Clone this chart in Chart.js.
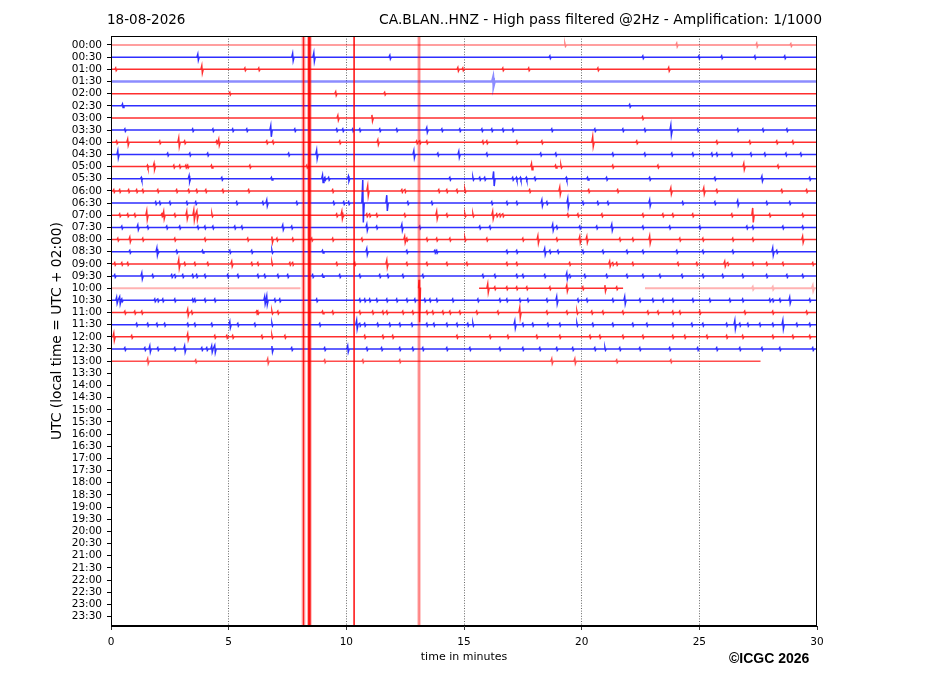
<!DOCTYPE html>
<html>
<head>
<meta charset="utf-8">
<script src="https://cdn.jsdelivr.net/npm/chart.js@4.4.1/dist/chart.umd.min.js"></script>
<style>
  html, body { margin: 0; padding: 0; background: #fff; }
</style>
</head>
<body>
<canvas id="heli" width="927" height="696"></canvas>
<script>
// Helicorder: one 30-minute line per half hour, spikes in row units
const dateLabel = '18-08-2026';
const titleText = 'CA.BLAN..HNZ - High pass filtered @2Hz - Amplification: 1/1000';
const creditText = '\u00A9ICGC 2026';

const rowLabels = [
  '00:00','00:30','01:00','01:30','02:00','02:30','03:00','03:30','04:00','04:30',
  '05:00','05:30','06:00','06:30','07:00','07:30','08:00','08:30','09:00','09:30',
  '10:00','10:30','11:00','11:30','12:00','12:30','13:00','13:30','14:00','14:30',
  '15:00','15:30','16:00','16:30','17:00','17:30','18:00','18:30','19:00','19:30',
  '20:00','20:30','21:00','21:30','22:00','22:30','23:00','23:30'
];
const minuteTicks = [0, 5, 10, 15, 20, 25, 30];

// data gaps (minutes); rows not listed run 0..30
const rowSpans = {
  20: [[0, 8.05], [13.07, 13.13], [15.64, 21.76], [22.69, 30]],
  26: [[0, 27.6]]
};

// clipped events that run through the whole plot (minutes)
const clippedMinutes = [8.18, 8.43, 10.33, 13.09];

// per row: minute (small wiggle), [minute, amp] or [minute, up, down]
const traceRows = [
  /* 00:00 */ [19.3, [24.05, .15], [27.45, .15], 28.9],
  /* 00:30 */ [[3.7, .25], [7.73, .3], [8.63, .35], [11.86, .15], 18.66, 22.61, 24.99, 25.96, 27.37, 28.64],
  /* 01:00 */ [0.21, [3.87, .3], 5.7, 6.29, [14.75, .15], 14.96, 16.66, 17.76, 20.7, [23.71, .15]],
  /* 01:30 */ [[16.25, .3]],
  /* 02:00 */ [5.06, [9.56, .15], 11.64],
  /* 02:30 */ [[0.5, .15], 22.05],
  /* 03:00 */ [[9.65, .2], [11.1, .25], 22.6],
  /* 03:30 */ [0.6, 3.48, 4.34, 5.18, 5.78, [6.8, .35, .55], 7.82, 9.6, 9.86, 10.28, 10.58, 11.43, 12.15, [13.43, .2],
               14.07, 14.83, 15.77, 16.19, 16.66, 17.08, 18.74, 20.57, 21.76, 22.69, [23.8, .4], 24.94, 26.64, 27.71, 28.73],
  /* 04:00 */ [0.25, [0.72, .25], 2.08, [2.89, .35], 3.14, 4.5, [4.59, .25], 6.63, 6.89, 9.73, [11.35, .2], 13.0, 13.13,
               13.43, 15.81, 15.98, 17.25, 18.32, [20.48, .45, .35], 22.35, 25.75, 27.15, 28.3, 28.98],
  /* 04:30 */ [[0.3, .3], 2.42, 3.36, 4.12, 7.56, [8.75, .35], [12.88, .3], 13.9, [14.79, .25], 15.98, 18.27, 18.91,
               21.33, 22.69, 23.84, 24.73, 25.54, 25.75, 26.39, 27.2, 27.79, 28.69, 29.32],
  /* 05:00 */ [1.56, [1.84, .25], 2.68, 2.93, 3.19, 3.27, 4.28, 5.91, 8.33, [17.88, .25], 18.9, 19.13, 21.33, 23.25,
               [26.9, .25], 28.35],
  /* 05:30 */ [1.3, [3.33, .25], 4.72, 6.83, [9.0, .3], 9.1, 9.26, [10.1, .2], 14.41, 15.39, 15.68, 15.89, [16.27, .6],
               17.08, 17.24, 17.41, 17.66, 18.02, 19.36, 20.26, 21.07, 22.9, 25.67, [27.67, .2], 29.7],
  /* 06:00 */ [0.13, 0.38, 0.76, 1.1, 1.36, 2.0, 2.8, 3.31, 3.65, 4.04, 4.76, 5.86, 9.43, [10.92, .4], 12.37, 12.5,
               13.94, 14.28, 14.71, 15.05, 17.8, [19.08, .3], 20.31, 21.54, [23.8, .25], [25.2, .25], 25.75, 28.51, 29.57],
  /* 06:30 */ [1.91, 2.08, 2.51, 3.23, 3.61, 5.35, 6.46, [6.63, .25], 7.9, 9.47, 9.9, 10.11, [10.71, 1.9, 1.6],
               [11.73, .65], 12.62, 13.64, 16.19, 16.83, 17.25, [18.32, .25], 18.53, [19.42, .35], 20.06, 20.69, 21.12,
               [22.9, .25], 24.3, 25.67, [26.64, .2], 27.87, 28.85],
  /* 07:00 */ [0.38, 0.72, 1.02, [1.53, .35], 2.17, [2.25, .3], 2.72, [3.23, .3], [3.53, .4], [3.66, .35], 4.3, 9.6,
               [9.82, .3], 9.86, 10.88, 11.0, 11.3, 12.49, [13.85, .3], 14.28, 15.05, 15.39, [16.23, .3], 16.4, 16.53,
               16.66, 19.42, 19.85, 20.87, 22.61, 23.46, 23.88, 24.73, 26.39, [27.28, .6], 28.0, 29.4],
  /* 07:30 */ [0.47, [1.15, .2], 1.57, 2.38, 2.93, 3.7, 4.0, 4.34, 5.27, 5.57, [7.31, .2], 7.69, [10.88, .25], 11.3,
               [12.37, .25], 13.13, 15.68, 16.11, [18.78, .25], 18.95, 19.93, 20.65, [21.29, .25], 22.61, 23.75, 25.03,
               27.03, 27.28, 28.56, 29.4],
  /* 08:00 */ [0.3, [0.81, .2], 1.36, 2.72, 4.0, 5.82, [6.85, .25], 7.06, 7.73, 8.54, 9.43, 10.67, [12.49, .25], 12.58,
               13.43, 13.85, 14.41, 15.05, 15.98, 17.51, [18.15, .3], 18.95, [19.93, .25], [20.23, .25], 21.63, 22.18,
               [22.9, .3], 24.18, 25.16, 26.43, 27.28, [29.4, .25]],
  /* 08:30 */ [0.81, [1.96, .3], 2.0, 2.8, 3.9, 5.06, 5.99, 6.85, 9.0, [10.88, .25], 12.58, 13.77, 13.85, 16.83, 17.25,
               [18.44, .25], 18.66, 19.0, 20.06, 20.91, 21.93, 22.61, 24.05, 25.16, 26.43, [28.13, .3], 28.3],
  /* 09:00 */ [0.17, 0.47, 0.72, [2.89, .35], 3.14, 3.57, 4.12, [5.14, .2], 5.99, 6.25, 6.85, 7.61, 7.73, 9.6, 10.37,
               [11.73, .3], 12.58, 13.43, 14.28, 15.13, 16.83, 17.25, 19.5, [21.2, .2], 21.33, 21.5, 22.18, 24.1, 24.9,
               [26.09, .2], 26.22, 27.28, 27.87, 28.56, 29.83],
  /* 09:30 */ [0.17, [1.32, .25], 1.78, 2.59, 2.72, 3.06, 3.48, 3.65, 4.0, 4.97, 5.4, 6.25, 6.54, 7.1, 7.52, 8.58, 9.0,
               9.73, 10.58, 11.43, 11.77, 12.41, 13.26, 15.81, 16.32, 17.25, 17.51, 18.44, [19.38, .25], 19.5, 20.14,
               21.07, 21.93, 22.61, 23.33, 24.27, 25.16, 26.0, 26.85, 27.87, 28.73, 29.4],
  /* 10:00 */ [[13.1, .7, 2.8], [16.02, .35], 16.32, 16.83, 17.25, 17.68, 18.66, [19.38, .25], 20.06, [21.0, .25], 21.5,
               27.28, 28.13, [29.83, .2]],
  /* 10:30 */ [[0.25, .25], [0.38, .3], 0.47, 1.87, 2.0, 2.21, 2.72, 3.48, 3.57, 4.0, 4.42, [6.54, .3], [6.63, .35], 6.97,
               7.18, 8.75, 10.58, 10.79, 11.0, 11.3, 11.73, 12.15, 12.58, 12.92, 13.34, 13.56, 13.85, 14.53, 15.6, 16.53,
               16.83, 17.38, 17.72, 18.53, [18.95, .3], 19.85, 20.23, 21.33, [21.84, .3], 22.48, 23.03, 23.46, 23.88,
               24.73, 25.45, 26.3, 26.85, 28.0, 28.13, 28.43, [28.85, .25], 29.7],
  /* 11:00 */ [0.6, 1.02, 1.32, [3.27, .25], 3.44, 6.2, 6.25, 6.85, 7.1, 9.0, 9.43, 10.58, 11.13, 11.56, 11.73, 12.41,
               12.83, 13.43, 13.68, 14.11, 14.41, 14.83, 15.55, 16.45, [17.38, .4], 18.53, 19.38, 19.81, 20.44, 20.91,
               21.76, 22.82, 23.25, 23.88, 24.18, 25.03, 26.94, 28.13, 29.57],
  /* 11:30 */ [1.1, 1.57, 1.96, 2.29, 3.27, 3.57, 4.29, [5.06, .25], 5.4, 6.12, 6.85, 8.88, [10.45, .35], 10.58, 10.79,
               11.34, 11.85, 12.28, 12.79, 13.43, 13.73, 14.28, 14.71, 15.17, 15.39, [17.17, .3], 17.51, 17.93, 18.57,
               19.08, 19.81, 20.48, 21.33, 22.18, 22.78, 23.88, 24.69, 25.16, 26.17, [26.52, .35], 26.73, 27.07, 27.58,
               28.13, [28.56, .35], 29.15, 29.7],
  /* 12:00 */ [[0.13, .3], 0.89, [3.27, .25], 4.42, 4.93, 5.18, 6.42, 6.85, 7.4, 10.79, 11.56, 11.98, 14.71, 16.11,
               16.87, 18.1, 19.08, 20.36, 20.78, 21.76, 22.61, 23.88, 24.39, 25.33, 26.17, 26.85, 28.13, 28.98, 29.7],
  /* 12:30 */ [0.6, 1.45, [1.66, .25], 2.0, 2.72, [3.14, .25], 3.87, 4.08, [4.29, .25], [4.42, .3], [6.85, .25], 7.69,
               9.09, [10.07, .25], 10.88, 11.51, 12.28, 12.83, 13.26, 14.28, 15.26, 16.53, 17.51, 18.23, 18.95, 19.63,
               20.57, 21.0, 21.63, 22.48, 23.75, 24.94, 25.75, 26.73, 27.67, 28.43, 29.83],
  /* 13:00 */ [[1.57, .2], 3.61, [6.67, .2], 9.09, 10.71, 12.28, [18.74, .2], [19.72, .2], 21.5, 23.8]
];

const Y_MIN = -0.74, Y_MAX = 47.78;
const SMALL = 0.11;

function spikeParts(e) {
  if (typeof e === 'number') return [e, SMALL, SMALL];
  if (e.length === 2) return [e[0], e[1], e[1]];
  return e;
}

function traceData(row, from, to) {
  const pts = [{ x: from, y: row }];
  traceRows[row].map(spikeParts)
    .filter(s => s[0] >= from && s[0] <= to)
    .sort((a, b) => a[0] - b[0])
    .forEach(([m, up, down]) => {
      pts.push({ x: m - 0.05, y: row }, { x: m - 0.012, y: row - up },
               { x: m + 0.012, y: row + down }, { x: m + 0.05, y: row });
    });
  pts.push({ x: to, y: row });
  return pts;
}

const datasets = [];

// clipped events on top of the traces
const clipStyles = [
  [{ w: 4, c: 'rgba(255,0,0,0.25)' }, { w: 1.5, c: 'rgba(255,0,0,0.85)' }],
  [{ w: 4.5, c: 'rgba(255,0,0,0.35)' }, { w: 2.6, c: 'rgba(255,0,0,0.9)' }],
  [{ w: 1.6, c: 'rgba(255,0,0,0.9)' }],
  [{ w: 3.8, c: 'rgba(255,0,0,0.22)' }, { w: 0.8, c: 'rgba(255,0,0,0.3)' }]
];
clippedMinutes.forEach((m, i) => {
  clipStyles[i].forEach(s => {
    datasets.push({
      data: [{ x: m, y: Y_MIN }, { x: m, y: Y_MAX }],
      borderColor: s.c, borderWidth: s.w, order: 0
    });
  });
});

traceRows.forEach((spikes, row) => {
  const spans = rowSpans[row] || [[0, 30]];
  const rgb = row % 2 === 0 ? '255,0,0' : '0,0,255';
  spans.forEach(([from, to], k) => {
    let alpha = 0.82, width = 1.5;
    if (row === 0) alpha = 0.5;
    if (row === 3) { alpha = 0.45; width = 2.6; }
    if (row === 20 && (k === 0 || k === 3)) { alpha = 0.3; width = 2; }
    if (row === 26) alpha = 0.7;
    datasets.push({
      data: traceData(row, from, to),
      borderColor: `rgba(${rgb},${alpha})`,
      borderWidth: width,
      order: 1
    });
  });
});

const framePlugin = {
  id: 'frameAndText',
  afterDraw(chart) {
    const { ctx, chartArea: a } = chart;
    ctx.save();
    ctx.strokeStyle = '#000';
    ctx.lineWidth = 1;
    ctx.strokeRect(a.left + 0.5, a.top + 0.5, a.right - a.left - 1, a.bottom - a.top - 1);

    ctx.fillStyle = '#000';
    ctx.textBaseline = 'middle';
    ctx.font = '13.5px "DejaVu Sans"';
    ctx.textAlign = 'left';
    ctx.fillText(dateLabel, 107, 20);
    ctx.font = '13.9px "DejaVu Sans"';
    ctx.textAlign = 'right';
    ctx.fillText(titleText, 822, 20, 443);

    ctx.font = 'bold 14px "Liberation Sans", Arial, sans-serif';
    ctx.textAlign = 'left';
    ctx.fillText(creditText, 729, 659);
    ctx.restore();
  }
};

new Chart(document.getElementById('heli'), {
  type: 'line',
  data: { datasets },
  options: {
    responsive: false,
    animation: false,
    layout: { padding: { left: 49, right: 110, top: 36, bottom: 32 } },
    elements: { point: { radius: 0 }, line: { tension: 0, fill: false } },
    plugins: { legend: { display: false }, tooltip: { enabled: false } },
    scales: {
      x: {
        type: 'linear',
        min: 0, max: 30,
        afterBuildTicks(scale) { scale.ticks = minuteTicks.map(v => ({ value: v })); },
        afterFit(scale) { scale.height = 38; },
        ticks: {
          color: '#000',
          padding: 6,
          maxRotation: 0,
          font: { family: '"DejaVu Sans"', size: 10.5 }
        },
        grid: {
          drawOnChartArea: true,
          color: c => (c.tick && (c.tick.value === 0 || c.tick.value === 30)) ? 'rgba(0,0,0,0)' : 'rgba(0,0,0,0.75)',
          lineWidth: 0.8,
          tickColor: '#000',
          tickLength: 4
        },
        border: { display: true, color: '#000', dash: [1, 1.6] },
        title: {
          display: true,
          text: 'time in minutes',
          color: '#000',
          padding: 0,
          font: { family: '"DejaVu Sans"', size: 11 }
        }
      },
      y: {
        type: 'linear',
        reverse: true,
        min: Y_MIN, max: Y_MAX,
        afterBuildTicks(scale) { scale.ticks = rowLabels.map((_, i) => ({ value: i })); },
        afterFit(scale) { scale.width = 62; },
        ticks: {
          autoSkip: false,
          color: '#000',
          padding: 5,
          font: { family: '"DejaVu Sans"', size: 10.5 },
          callback: v => rowLabels[v]
        },
        grid: { drawOnChartArea: false, color: '#000', tickLength: 4 },
        border: { display: true, color: '#000' },
        title: {
          display: true,
          text: 'UTC (local time = UTC + 02:00)',
          color: '#000',
          padding: 0,
          font: { family: '"DejaVu Sans"', size: 13.8 }
        }
      }
    }
  },
  plugins: [framePlugin]
});
</script>
</body>
</html>
